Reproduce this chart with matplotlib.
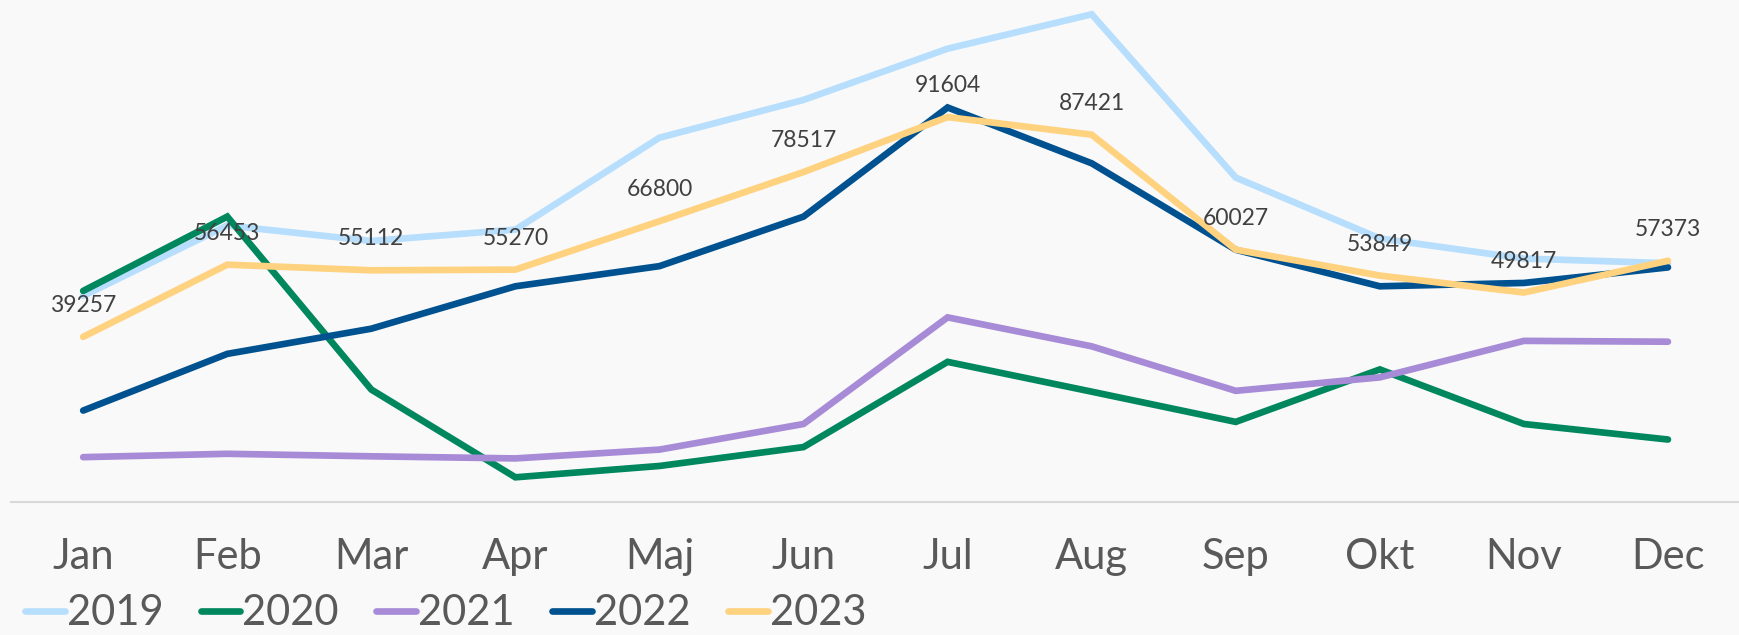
import numpy as np
import matplotlib.pyplot as plt

months = ["Jan", "Feb", "Mar", "Apr", "Maj", "Jun", "Jul", "Aug", "Sep", "Okt", "Nov", "Dec"]

# values (2023 has printed labels)
v2019 = [49000, 65800, 62100, 64800, 86700, 95700, 107900, 116100, 77200, 62700, 57900, 56800]
v2020 = [50200, 67900, 26700, 5800, 8500, 13000, 33300, 26200, 19000, 31500, 18500, 14800]
v2021 = [10600, 11400, 10800, 10300, 12400, 18500, 43900, 37000, 26400, 29600, 38300, 38100]
v2022 = [21700, 35200, 41200, 51300, 56100, 67900, 93900, 80600, 60000, 51300, 52100, 55800]
v2023 = [39257, 56453, 55112, 55270, 66800, 78517, 91604, 87421, 60027, 53849, 49817, 57373]

years = ["2019", "2020", "2021", "2022", "2023"]
colors = ["#b7dffd", "#00875d", "#a78bd6", "#00518f", "#ffd27f"]

bg = "#f9f9f9"
txt_font = ["Lato", "DejaVu Sans"]
fig = plt.figure(figsize=(17.4, 6.35), dpi=100, facecolor=bg)
ax = fig.add_axes([0.0064, 0.21, 0.9936, 0.79], facecolor=bg)

x = np.arange(len(months))
for vals, name, c in zip([v2019, v2020, v2021, v2022, v2023], years, colors):
    ax.plot(x, vals, color=c, lw=4.8, solid_capstyle="round", solid_joinstyle="miter", label=name)

for xi, v in zip(x, v2023):
    ax.annotate(str(v), (xi, v), xytext=(0, 15), textcoords="offset points",
                ha="center", va="bottom", fontsize=16.5, color="#404040", family=txt_font)

ax.set_xlim(-0.5, 11.5)
ax.set_ylim(0, 119500)
ax.set_yticks([])
ax.set_xticks(x)
ax.set_xticklabels(months, family=txt_font, fontsize=30, color="#595959")
ax.tick_params(axis="x", length=0, pad=26)
for s in ["top", "left", "right"]:
    ax.spines[s].set_visible(False)
ax.spines["bottom"].set_color("#d9d9d9")
ax.spines["bottom"].set_linewidth(1.5)

leg = fig.legend(loc="lower left", bbox_to_anchor=(0.0, -0.035), ncol=5, frameon=False,
                 prop={"family": txt_font, "size": 30},
                 handlelength=0.95, handletextpad=0.05, columnspacing=0.9, borderaxespad=0.2)
for t in leg.get_texts():
    t.set_color("#595959")

fig.savefig("out.png", dpi=100, facecolor=bg)
